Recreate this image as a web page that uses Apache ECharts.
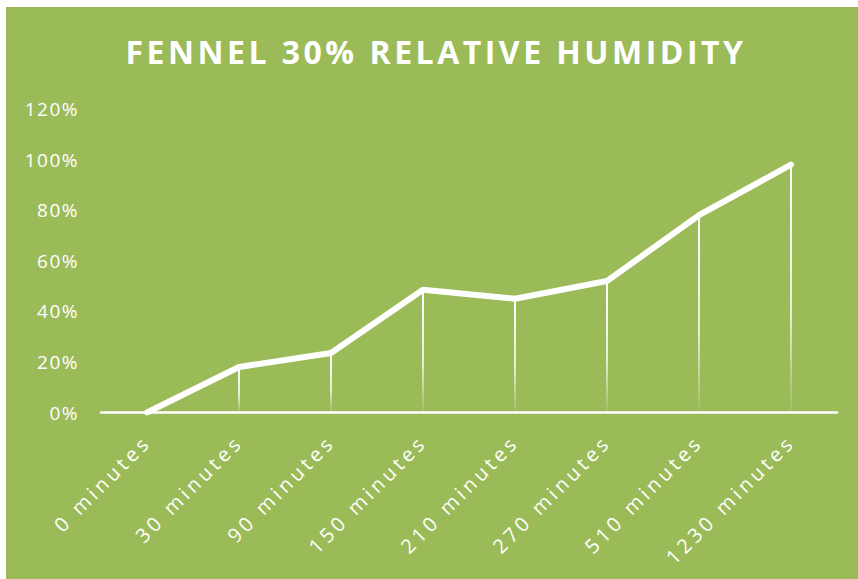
<!DOCTYPE html>
<html>
<head>
<meta charset="utf-8">
<style>
  html, body { margin: 0; padding: 0; background: #ffffff; }
  #chart { position: absolute; left: 6px; top: 7px; width: 852px; height: 572px; }
  /* tracked-out lettering for title and axis labels */
  #chart text[style*="32px"] { letter-spacing: 3.5px; }
  #chart text[style*="20px"] { letter-spacing: 3.8px; }
  #chart text[style*="19px"] { letter-spacing: 1.5px; }
</style>
<script src="https://cdn.jsdelivr.net/npm/echarts@6/dist/echarts.min.js"></script>
</head>
<body>
<div id="chart"></div>
<script>
// Elapsed drying time and measured moisture loss (%)
const categories = ['0 minutes', '30 minutes', '90 minutes', '150 minutes', '210 minutes', '270 minutes', '510 minutes', '1230 minutes'];
const values = [0, 18, 23.5, 48.5, 45, 52, 78, 98];
const yTicks = { min: 0, max: 120, interval: 20 };
const titleText = 'FENNEL 30% RELATIVE HUMIDITY';

const font = '"Open Sans", "Noto Sans", sans-serif';
const chart = echarts.init(document.getElementById('chart'), null, { renderer: 'svg' });

chart.setOption({
  backgroundColor: '#9BBB59',
  animation: false,
  title: {
    text: titleText,
    left: 425,
    top: 23,
    textAlign: 'center',
    textStyle: { color: '#ffffff', fontFamily: font, fontWeight: 'bold', fontSize: 32 }
  },
  grid: { left: 95, right: 21, top: 102, bottom: 166.5 },
  xAxis: {
    type: 'category',
    data: categories,
    boundaryGap: true,
    axisLine: { lineStyle: { color: '#ffffff', width: 2.5 } },
    axisTick: { show: false },
    axisLabel: { color: '#ffffff', fontFamily: font, fontSize: 20, rotate: 45, margin: 26, interval: 0 }
  },
  yAxis: {
    type: 'value',
    min: yTicks.min,
    max: yTicks.max,
    interval: yTicks.interval,
    axisLine: { show: false },
    axisTick: { show: false },
    splitLine: { show: false },
    axisLabel: { color: '#ffffff', fontFamily: font, fontSize: 19, margin: 22, formatter: '{value}%' }
  },
  series: [
    {
      // drop lines from each point down to the axis, fading out
      type: 'bar',
      data: values,
      barWidth: 2,
      silent: true,
      itemStyle: {
        color: new echarts.graphic.LinearGradient(0, 0, 0, 1, [
          { offset: 0, color: 'rgba(255,255,255,1)' },
          { offset: 0.6, color: 'rgba(255,255,255,0.75)' },
          { offset: 1, color: 'rgba(255,255,255,0.05)' }
        ])
      },
      z: 2
    },
    {
      type: 'line',
      data: values,
      symbol: 'none',
      lineStyle: { color: '#ffffff', width: 6, cap: 'round', join: 'round' },
      z: 3
    }
  ]
});
</script>
</body>
</html>
